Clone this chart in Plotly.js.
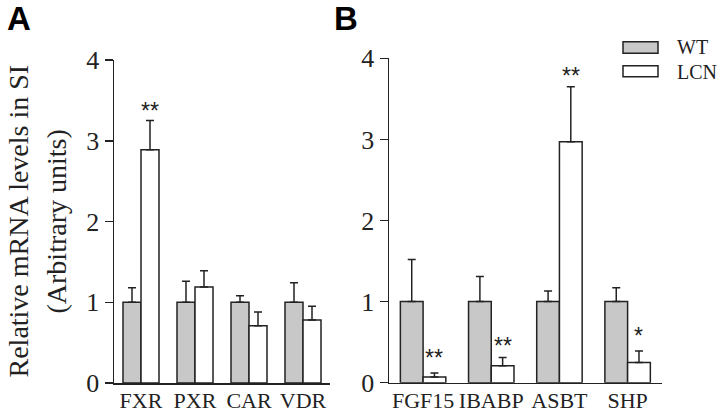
<!DOCTYPE html>
<html>
<head>
<meta charset="utf-8">
<script src="https://cdn.plot.ly/plotly-3.0.1.min.js"></script>
<style>html,body{margin:0;padding:0;background:#fff;}#chart{width:717px;height:414px;}</style>
</head>
<body>
<div id="chart"></div>
<script>
// Panel A data
const genesA = ["FXR", "PXR", "CAR", "VDR"];
const wtA = [1, 1, 1, 1];
const wtErrA = [0.18, 0.26, 0.08, 0.24];
const lcnA = [2.89, 1.19, 0.71, 0.78];
const lcnErrA = [0.36, 0.20, 0.17, 0.17];
const sigA = ["**", "", "", ""];
const sigYA = [3.40, null, null, null];

// Panel B data
const genesB = ["FGF15", "IBABP", "ASBT", "SHP"];
const wtB = [1, 1, 1, 1];
const wtErrB = [0.52, 0.31, 0.13, 0.17];
const lcnB = [0.07, 0.21, 2.97, 0.25];
const lcnErrB = [0.05, 0.10, 0.68, 0.14];
const sigB = ["**", "**", "**", "*"];
const sigYB = [0.34, 0.49, 3.82, 0.61];

const seriesNames = ["WT", "LCN"];
const yTicks = [0, 1, 2, 3, 4];

const INK = "#222222";
const WT_FILL = "#c8c8c8";
const LCN_FILL = "#ffffff";
const SERIF = "Liberation Serif";
const SANS = "Liberation Sans";

function barTrace(x, y, err, name, fill, xa, ya) {
  return {
    type: "bar", x: x, y: y, name: name, xaxis: xa, yaxis: ya,
    marker: {color: fill, line: {color: INK, width: 1.5}},
    error_y: {type: "data", symmetric: false, array: err, arrayminus: err.map(() => 0),
              color: INK, thickness: 1.5, width: 4},
    showlegend: false, hoverinfo: "skip"
  };
}

const data = [
  barTrace(genesA, wtA, wtErrA, seriesNames[0], WT_FILL, "x", "y"),
  barTrace(genesA, lcnA, lcnErrA, seriesNames[1], LCN_FILL, "x", "y"),
  barTrace(genesB, wtB, wtErrB, seriesNames[0], WT_FILL, "x2", "y2"),
  barTrace(genesB, lcnB, lcnErrB, seriesNames[1], LCN_FILL, "x2", "y2")
];

const annotations = [];
sigA.forEach((s, i) => {
  if (s) annotations.push({xref: "x", yref: "y", x: i + 1/6, y: sigYA[i], text: s, showarrow: false,
    font: {family: SANS, size: 23, color: INK}, yanchor: "middle", yshift: -3});
});
sigB.forEach((s, i) => {
  if (s) annotations.push({xref: "x2", yref: "y2", x: i + 1/6, y: sigYB[i], text: s, showarrow: false,
    font: {family: SANS, size: 23, color: INK}, yanchor: "middle", yshift: -3});
});
// y-axis title (two lines)
annotations.push({xref: "paper", yref: "paper", x: 18/717, y: 1 - 221.5/414, text: "Relative mRNA levels in SI",
  textangle: -90, showarrow: false, xanchor: "center", yanchor: "middle",
  font: {family: SERIF, size: 28, color: INK}});
annotations.push({xref: "paper", yref: "paper", x: 56/717, y: 1 - 221.5/414, text: "(Arbitrary units)",
  textangle: -90, showarrow: false, xanchor: "center", yanchor: "middle",
  font: {family: SERIF, size: 28, color: INK}});
// panel letters
annotations.push({xref: "paper", yref: "paper", x: 5/717, y: 1 + 2/414, text: "<b>A</b>", showarrow: false,
  xanchor: "left", yanchor: "top", font: {family: SANS, size: 33, color: "#000"}});
annotations.push({xref: "paper", yref: "paper", x: 332/717, y: 1 + 2/414, text: "<b>B</b>", showarrow: false,
  xanchor: "left", yanchor: "top", font: {family: SANS, size: 33, color: "#000"}});
// legend labels
annotations.push({xref: "paper", yref: "paper", x: 675/717, y: 1 - 47.5/414, text: seriesNames[0], showarrow: false,
  xanchor: "left", yanchor: "middle", font: {family: SERIF, size: 20, color: INK}});
annotations.push({xref: "paper", yref: "paper", x: 675/717, y: 1 - 71.5/414, text: seriesNames[1], showarrow: false,
  xanchor: "left", yanchor: "middle", font: {family: SERIF, size: 20, color: INK}});

const shapes = [
  {type: "rect", xref: "paper", yref: "paper", x0: 623/717, x1: 658/717, y0: 1 - 53.3/414, y1: 1 - 41.7/414,
   fillcolor: WT_FILL, line: {color: INK, width: 1.5}},
  {type: "rect", xref: "paper", yref: "paper", x0: 623/717, x1: 658/717, y0: 1 - 76.7/414, y1: 1 - 65.7/414,
   fillcolor: LCN_FILL, line: {color: INK, width: 1.5}}
];

function yAxis(domain, anchor) {
  return {domain: domain, anchor: anchor, range: [0, 4], tickvals: yTicks, ticktext: yTicks.map(String),
    showgrid: false, zeroline: false, showline: true, linecolor: INK, linewidth: 1.5,
    ticks: "outside", ticklen: 8, tickwidth: 1.5, tickcolor: INK,
    tickfont: {family: SERIF, size: 26, color: INK}, fixedrange: true};
}
function xAxis(domain, anchor) {
  return {domain: domain, anchor: anchor, type: "category", range: [-0.5, 3.5],
    showgrid: false, zeroline: false, showline: true, linecolor: INK, linewidth: 1.5,
    ticks: "", tickangle: 0, ticklabelstandoff: -3,
    tickfont: {family: SERIF, size: 22, color: INK}, fixedrange: true};
}

const layout = {
  width: 717, height: 414,
  margin: {l: 0, r: 0, t: 0, b: 0},
  paper_bgcolor: "#fff", plot_bgcolor: "rgba(0,0,0,0)",
  barmode: "group", bargap: 1/3, bargroupgap: 0,
  showlegend: false,
  font: {family: SERIF},
  xaxis: xAxis([114/717, 330/717], "y"),
  yaxis: yAxis([1 - 383/414, 1 - 60/414], "x"),
  xaxis2: xAxis([389/717, 661.7/717], "y2"),
  yaxis2: yAxis([1 - 382.7/414, 1 - 58.3/414], "x2"),
  annotations: annotations,
  shapes: shapes
};

Plotly.newPlot("chart", data, layout, {displayModeBar: false, staticPlot: true});
</script>
</body>
</html>
